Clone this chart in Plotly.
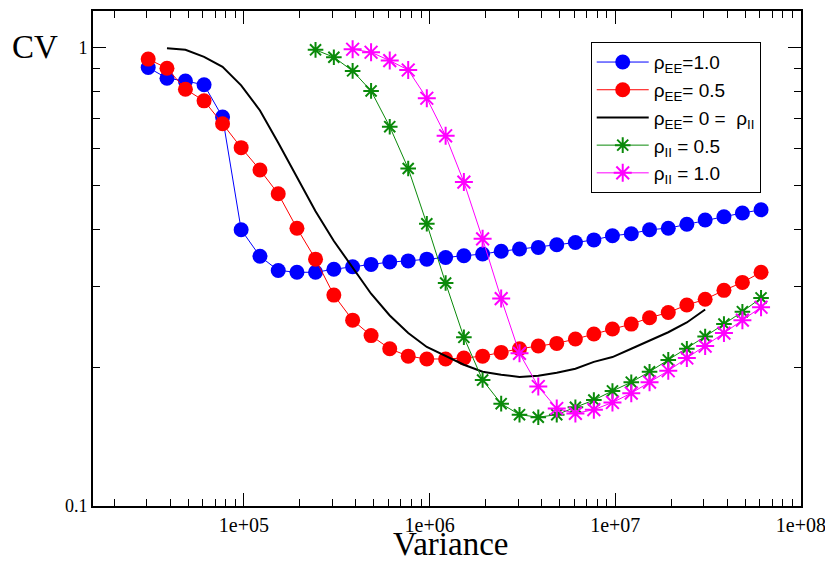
import plotly.graph_objects as go

variance = [30500, 38500, 48400, 61000, 76700, 96600, 122000, 153000, 193000,
            243000, 305000, 385000, 484000, 610000, 767000, 966000, 1.22e6,
            1.53e6, 1.93e6, 2.43e6, 3.05e6, 3.85e6, 4.84e6, 6.10e6, 7.67e6,
            9.66e6, 1.22e7, 1.53e7, 1.93e7, 2.43e7, 3.05e7, 3.85e7, 4.84e7, 6.10e7]

cv_ee10 = [0.903, 0.856, 0.844, 0.828, 0.704, 0.400, 0.350, 0.326, 0.323, 0.323,
           0.328, 0.332, 0.336, 0.340, 0.342, 0.345, 0.348, 0.351, 0.354, 0.359,
           0.363, 0.366, 0.371, 0.375, 0.380, 0.388, 0.392, 0.400, 0.403, 0.411,
           0.420, 0.427, 0.435, 0.442]

cv_ee05 = [0.942, 0.900, 0.810, 0.764, 0.681, 0.604, 0.540, 0.479, 0.403, 0.345,
           0.288, 0.254, 0.235, 0.220, 0.212, 0.209, 0.209, 0.210, 0.212, 0.216,
           0.220, 0.223, 0.226, 0.231, 0.237, 0.243, 0.249, 0.257, 0.264, 0.274,
           0.282, 0.295, 0.307, 0.323]

# black curve: variance[1:31]
cv_zero = [0.995, 0.987, 0.953, 0.906, 0.826, 0.728, 0.619, 0.522, 0.439, 0.378,
           0.330, 0.290, 0.260, 0.238, 0.222, 0.212, 0.203, 0.196, 0.193, 0.191,
           0.192, 0.195, 0.199, 0.206, 0.211, 0.220, 0.229, 0.239, 0.251, 0.268]

# green: variance[9:]
cv_ii05 = [0.987, 0.951, 0.888, 0.803, 0.671, 0.544, 0.412, 0.306, 0.233, 0.188,
           0.167, 0.158, 0.156, 0.158, 0.164, 0.170, 0.178, 0.186, 0.196, 0.208,
           0.220, 0.234, 0.249, 0.265, 0.284]

# magenta: variance[11:]
cv_ii10 = [0.990, 0.975, 0.935, 0.892, 0.774, 0.641, 0.508, 0.382, 0.283, 0.215,
           0.182, 0.163, 0.159, 0.162, 0.168, 0.176, 0.186, 0.197, 0.210, 0.223,
           0.238, 0.254, 0.271]

x_tickvals = [1e5, 1e6, 1e7, 1e8]
x_ticktext = ["1e+05", "1e+06", "1e+07", "1e+08"]
y_tickvals = [0.1, 1]
y_ticktext = ["0.1", "1"]

fig = go.Figure()
fig.add_trace(go.Scatter(x=variance, y=cv_ee10, mode="lines+markers",
                         name="ρ<sub>EE</sub>=1.0",
                         line=dict(color="#0000ff", width=1),
                         marker=dict(color="#0000ff", size=15, symbol="circle")))
fig.add_trace(go.Scatter(x=variance, y=cv_ee05, mode="lines+markers",
                         name="ρ<sub>EE</sub>= 0.5",
                         line=dict(color="#ff0000", width=1),
                         marker=dict(color="#ff0000", size=15, symbol="circle")))
fig.add_trace(go.Scatter(x=variance[1:31], y=cv_zero, mode="lines",
                         name="ρ<sub>EE</sub>= 0 =  ρ<sub>II</sub>",
                         line=dict(color="#000000", width=2)))
fig.add_trace(go.Scatter(x=variance[9:], y=cv_ii05, mode="lines+markers",
                         name="ρ<sub>II</sub> = 0.5",
                         line=dict(color="#0a8a0a", width=1),
                         marker=dict(color="#0a8a0a", size=13, symbol="asterisk-open",
                                     line=dict(color="#0a8a0a", width=2))))
fig.add_trace(go.Scatter(x=variance[11:], y=cv_ii10, mode="lines+markers",
                         name="ρ<sub>II</sub> = 1.0",
                         line=dict(color="#ff00ff", width=1),
                         marker=dict(color="#ff00ff", size=15, symbol="asterisk-open",
                                     line=dict(color="#ff00ff", width=2))))

axis_common = dict(showgrid=False, zeroline=False, showline=True, linecolor="black",
                   linewidth=2, mirror="ticks", ticks="inside", ticklen=13,
                   tickwidth=1, tickcolor="black", ticklabeloverflow="allow",
                   automargin=False)

fig.update_xaxes(type="log", range=[4.187, 8.0005], tickvals=x_tickvals,
                 ticktext=x_ticktext,
                 tickfont=dict(family="Liberation Serif", size=20, color="black"),
                 minor=dict(ticks="inside", ticklen=7, tickcolor="black", dtick="D1",
                            showgrid=False),
                 **axis_common)
fig.update_yaxes(type="log", range=[-1.0005, 0.079], tickvals=y_tickvals,
                 ticktext=y_ticktext,
                 tickfont=dict(family="Liberation Serif", size=18, color="black"),
                 minor=dict(ticks="inside", ticklen=7, tickcolor="black", dtick="D1",
                            showgrid=False),
                 **axis_common)

fig.add_annotation(text="CV", xref="paper", yref="paper", x=-0.047, y=0.927,
                   xanchor="right", yanchor="middle", showarrow=False,
                   font=dict(family="Liberation Serif", size=33, color="black"))
fig.add_annotation(text="Variance", xref="paper", yref="paper", x=0.505, y=-0.076,
                   xanchor="center", yanchor="middle", showarrow=False,
                   font=dict(family="Liberation Serif", size=33, color="black"))

fig.update_layout(
    width=825, height=562,
    margin=dict(l=93, r=24, t=11, b=56),
    paper_bgcolor="white", plot_bgcolor="white",
    showlegend=True,
    legend=dict(x=0.703, y=0.937, xanchor="left", yanchor="top",
                bgcolor="white", bordercolor="black", borderwidth=1,
                font=dict(family="Liberation Sans", size=19, color="black"),
                itemwidth=52, tracegroupgap=0),
)

fig.write_html("out.html")
